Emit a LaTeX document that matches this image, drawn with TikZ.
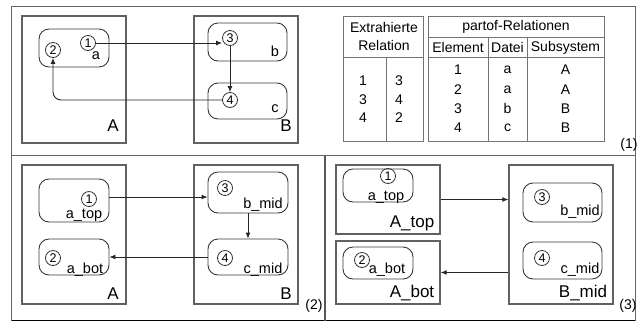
\documentclass[tikz,border=0pt]{standalone}
\usepackage{fontspec}
\setmainfont{Liberation Sans}
\usetikzlibrary{arrows.meta}
\begin{document}
\begin{tikzpicture}[x=1pt,y=-1pt,
 framel/.style={draw=black!60,line width=0.9pt},
 sysbox/.style={draw=black!62,line width=1.3pt,rectangle,inner sep=0pt},
 filebox/.style={draw=black!78,line width=0.9pt,rectangle,rounded corners=10pt,inner sep=0pt},
 elem/.style={circle,draw=black!80,line width=0.8pt,minimum size=15pt,inner sep=0pt,font=\fontsize{12.5}{13}\selectfont},
 small/.style={font=\fontsize{14.5}{16}\selectfont,inner sep=0pt},
 big/.style={font=\fontsize{17}{19}\selectfont,inner sep=0pt},
 tab/.style={font=\fontsize{14}{16}\selectfont,inner sep=0pt},
 arr/.style={draw=black!85,line width=0.9pt,-{Latex[length=6pt,width=5pt]}},
 tline/.style={draw=black!55,line width=1pt}
]
\useasboundingbox (0,0) rectangle (642,325);
% frame
\draw[framel] (11.5,320.5) -- (11.5,6) -- (635,6) -- (635,320.5);
\draw[black,line width=1.6pt] (11.5,320.5) -- (635,320.5);
\draw[framel] (11.5,155) -- (635,155);
\draw[black!65,line width=1.2pt] (325,155) -- (325,320.5);

% ---------- part 1 ----------
\node[sysbox,minimum width=104pt,minimum height=127pt] (A1) at (74,79.5) {};
\node[sysbox,minimum width=104pt,minimum height=127pt] (B1) at (246,79.5) {};
\node[filebox,minimum width=70pt,minimum height=38pt] (fa1) at (74,48) {};
\node[filebox,minimum width=79pt,minimum height=38pt] (fb1) at (247.5,42) {};
\node[filebox,minimum width=79pt,minimum height=36pt] (fc1) at (247.5,101) {};
\node[big] (lA1) at (113,126) {A};
\node[big] (lB1) at (286,126) {B};
\node[small] (la1) at (96,56) {a};
\node[small] (lb1) at (275,51) {b};
\node[small] (lc1) at (275,109) {c};
\node[elem] (e1a) at (88,43) {1};
\node[elem] (e2a) at (53,50) {2};
\node[elem] (e3a) at (230,38) {3};
\node[elem] (e4a) at (230,100) {4};
\draw[arr] (e1a.east) -- (e1a.east -| e3a.west);
\draw[arr] (e3a.south) -- (e4a.north);
\draw[arr,rounded corners=8pt] (e4a.west) -| (e2a.south);

% tables
\draw[tline] (343,16.5) rectangle (423.5,141.5);
\draw[tline] (343,57) -- (423.5,57);
\draw[tline] (386,57) -- (386,141.5);
\draw[tline] (428,16.5) rectangle (604,141.5);
\draw[tline] (428,37) -- (604,37);
\draw[tline] (428,57) -- (604,57);
\draw[tline] (488,37) -- (488,141.5);
\draw[tline] (527,37) -- (527,141.5);
\node[tab] (t1) at (384,27) {Extrahierte};
\node[tab] (t2) at (384,45.5) {Relation};
\node[tab] (t3) at (516,27) {partof-Relationen};
\node[tab] (t4) at (458,47.5) {Element};
\node[tab] (t5) at (507.5,47.5) {Datei};
\node[tab] (t6) at (565.5,47.5) {Subsystem};
\node[tab] (x11) at (363,81) {1};
\node[tab] (x12) at (363,99.5) {3};
\node[tab] (x13) at (363,118) {4};
\node[tab] (x21) at (399,81) {3};
\node[tab] (x22) at (399,99.5) {4};
\node[tab] (x23) at (399,118) {2};
\node[tab] (p11) at (458,70) {1};
\node[tab] (p12) at (458,89.3) {2};
\node[tab] (p13) at (458,108.6) {3};
\node[tab] (p14) at (458,128) {4};
\node[tab] (p21) at (507.5,70) {a};
\node[tab] (p22) at (507.5,89.3) {a};
\node[tab] (p23) at (507.5,108.6) {b};
\node[tab] (p24) at (507.5,128) {c};
\node[tab] (p31) at (565.5,70) {A};
\node[tab] (p32) at (565.5,89.3) {A};
\node[tab] (p33) at (565.5,108.6) {B};
\node[tab] (p34) at (565.5,128) {B};
\node[tab] (n1) at (629,145) {(1)};

% ---------- part 2 ----------
\node[sysbox,minimum width=104pt,minimum height=139pt] (A2) at (74,234.5) {};
\node[sysbox,minimum width=104pt,minimum height=139pt] (B2) at (246,234.5) {};
\node[filebox,minimum width=70pt,minimum height=43pt] (fat2) at (74,200.5) {};
\node[filebox,minimum width=70pt,minimum height=36pt] (fab2) at (74,257) {};
\node[filebox,minimum width=80pt,minimum height=41pt] (fbm2) at (248,192.5) {};
\node[filebox,minimum width=80pt,minimum height=36pt] (fcm2) at (248,257) {};
\node[big] (lA2) at (113,294) {A};
\node[big] (lB2) at (286,294) {B};
\node[elem] (e1b) at (89,199) {1};
\node[elem] (e2b) at (53,258) {2};
\node[elem] (e3b) at (225,188) {3};
\node[elem] (e4b) at (225,258) {4};
\node[small] (lat2) at (84,215) {a\_top};
\node[small] (lab2) at (85,270) {a\_bot};
\node[small] (lbm2) at (263,205) {b\_mid};
\node[small] (lcm2) at (263,270) {c\_mid};
\coordinate (s12) at (109,197);
\draw[arr] (s12) -- (s12 -| fbm2.west);
\draw[arr] (fbm2.south) -- (fcm2.north);
\draw[arr] (fcm2.west) -- (fab2.east);
\node[tab] (n2) at (314,306) {(2)};

% ---------- part 3 ----------
\node[sysbox,minimum width=104pt,minimum height=69pt] (At3) at (388,199.5) {};
\node[sysbox,minimum width=104pt,minimum height=63pt] (Ab3) at (388,272.5) {};
\node[sysbox,minimum width=104pt,minimum height=139pt] (Bm3) at (561,234.5) {};
\node[filebox,minimum width=70pt,minimum height=33pt] (fat3) at (378,185.5) {};
\node[filebox,minimum width=70pt,minimum height=32pt] (fab3) at (378,263) {};
\node[filebox,minimum width=79pt,minimum height=39pt] (fbm3) at (562.5,202.5) {};
\node[filebox,minimum width=79pt,minimum height=37pt] (fcm3) at (562.5,260.5) {};
\node[big] (lAt3) at (412,223) {A\_top};
\node[big] (lAb3) at (412,293) {A\_bot};
\node[big] (lBm3) at (583,293) {B\_mid};
\node[elem] (e1c) at (388,176) {1};
\node[elem] (e2c) at (362,260) {2};
\node[elem] (e3c) at (542,197) {3};
\node[elem] (e4c) at (542,258) {4};
\node[small] (lat3) at (386,197) {a\_top};
\node[small] (lab3) at (387,270) {a\_bot};
\node[small] (lbm3) at (580,212) {b\_mid};
\node[small] (lcm3) at (580,270) {c\_mid};
\draw[arr] (At3.east) -- (At3.east -| Bm3.west);
\draw[arr] (Ab3.east -| Bm3.west) -- (Ab3.east);
\node[tab] (n3) at (628,306) {(3)};
\end{tikzpicture}
\end{document}
